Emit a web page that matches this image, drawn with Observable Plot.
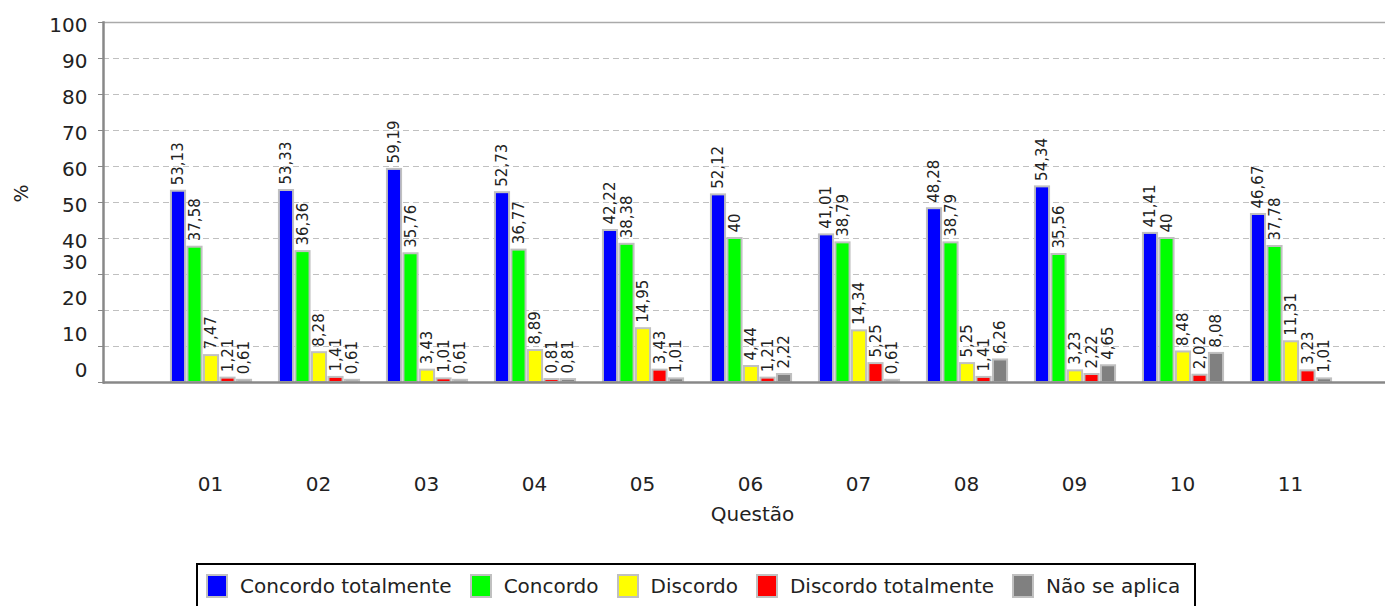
<!DOCTYPE html>
<html>
<head>
<meta charset="utf-8">
<script src="https://cdn.jsdelivr.net/npm/d3@7"></script>
<script src="https://cdn.jsdelivr.net/npm/@observablehq/plot@0.6"></script>
<style>
  body { margin: 0; background: #fff; font-family: "DejaVu Sans", sans-serif; }
  #chart svg { display: block; }
  #legend {
    position: absolute; left: 196px; top: 563px; width: 1000px; height: 44px;
    border: 2px solid #000; box-sizing: border-box; border-bottom: none;
    display: flex; align-items: center; padding-left: 8px;
    font-family: "DejaVu Sans", sans-serif; font-size: 20px; color: #222; white-space: nowrap;
  }
  .item { display: flex; align-items: center; margin-right: 18px; }
  .sw { width: 18px; height: 20px; border: 2px solid #c0c0c0; margin-right: 12px; }
</style>
</head>
<body>
<div id="chart"></div>
<div id="legend"></div>
<script>
const questions = ["01","02","03","04","05","06","07","08","09","10","11"];
const series = ["Concordo totalmente","Concordo","Discordo","Discordo totalmente","Não se aplica"];
const colors = ["#0000ff","#00ff00","#ffff00","#ff0000","#808080"];
const concordoTotalmente = [53.13,53.33,59.19,52.73,42.22,52.12,41.01,48.28,54.34,41.41,46.67];
const concordo = [37.58,36.36,35.76,36.77,38.38,40,38.79,38.79,35.56,40,37.78];
const discordo = [7.47,8.28,3.43,8.89,14.95,4.44,14.34,5.25,3.23,8.48,11.31];
const discordoTotalmente = [1.21,1.41,1.01,0.81,3.43,1.21,5.25,1.41,2.22,2.02,3.23];
const naoSeAplica = [0.61,0.61,0.61,0.81,1.01,2.22,0.61,6.26,4.65,8.08,1.01];
const yTicks = [0,10,20,30,40,50,60,70,80,90,100];
const yTitle = "%";
const xTitle = "Questão";

const values = [concordoTotalmente, concordo, discordo, discordoTotalmente, naoSeAplica];
const rows = [];
series.forEach((s, i) => questions.forEach((q, j) => rows.push({q, s, i, v: values[i][j]})));
const fmt = v => String(v).replace(".", ",");

const W = 1387, H = 556, mL = 103, mR = 2, mT = 22, mB = 174;
const xRange = [154, 1346];
const bw = (xRange[1] - xRange[0]) / questions.length;
const pitch = 16.5, half = 7.25, shift = 1;
const off = i => (i - 2) * pitch + shift;

const barMarks = series.map((s, i) => Plot.barY(rows.filter(r => r.i === i), {
  x: "q", y: "v", fill: colors[i], stroke: "#c0c0c0", strokeWidth: 2,
  insetLeft: bw / 2 + off(i) - half, insetRight: bw / 2 - off(i) - half
}));
const labelMarks = series.map((s, i) => Plot.text(rows.filter(r => r.i === i), {
  x: "q", y: "v", text: d => fmt(d.v), rotate: -90, textAnchor: "start", lineAnchor: "middle",
  dx: off(i), dy: -6, fontSize: 15, fill: "#222"
}));

const chart = Plot.plot({
  width: W, height: H, marginLeft: mL, marginRight: mR, marginTop: mT, marginBottom: mB,
  style: {fontFamily: "DejaVu Sans, sans-serif", color: "#222", background: "#fff"},
  x: {domain: questions, range: xRange, padding: 0},
  y: {domain: [0, 100]},
  marks: [
    Plot.gridY(yTicks.filter(t => t > 0 && t < 100), {stroke: "#c0c0c0", strokeOpacity: 1, strokeDasharray: "6,4"}),
    Plot.ruleY([100], {stroke: "#aaa", strokeWidth: 1.5}),
    ...barMarks,
    Plot.ruleY([0], {stroke: "#888", strokeWidth: 2.5}),
    Plot.frame({anchor: "left", stroke: "#888", strokeWidth: 2.5}),
    Plot.axisY({ticks: yTicks, tickSize: 5, tickFormat: () => "", stroke: "#888", label: null}),
    Plot.axisY({ticks: yTicks.filter(t => t >= 40), tickSize: 0, tickPadding: 16, dy: 3, fontSize: 20, label: null}),
    Plot.axisY({ticks: yTicks.filter(t => t < 40), tickSize: 0, tickPadding: 16, dy: -12, fontSize: 20, label: null}),
    Plot.axisX({tickSize: 0, tickPadding: 94, fontSize: 20, label: null}),
    Plot.text([yTitle], {frameAnchor: "left", dx: -82, rotate: -90, fontSize: 19, fill: "#222"}),
    Plot.text([xTitle], {frameAnchor: "bottom", dx: 8, dy: 138, fontSize: 20, fill: "#222"}),
    ...labelMarks
  ]
});
document.getElementById("chart").appendChild(chart);

const legend = document.getElementById("legend");
series.forEach((s, i) => {
  const it = document.createElement("div");
  it.className = "item";
  const sw = document.createElement("span");
  sw.className = "sw";
  sw.style.background = colors[i];
  const t = document.createElement("span");
  t.textContent = s;
  it.appendChild(sw); it.appendChild(t);
  legend.appendChild(it);
});
</script>
</body>
</html>
